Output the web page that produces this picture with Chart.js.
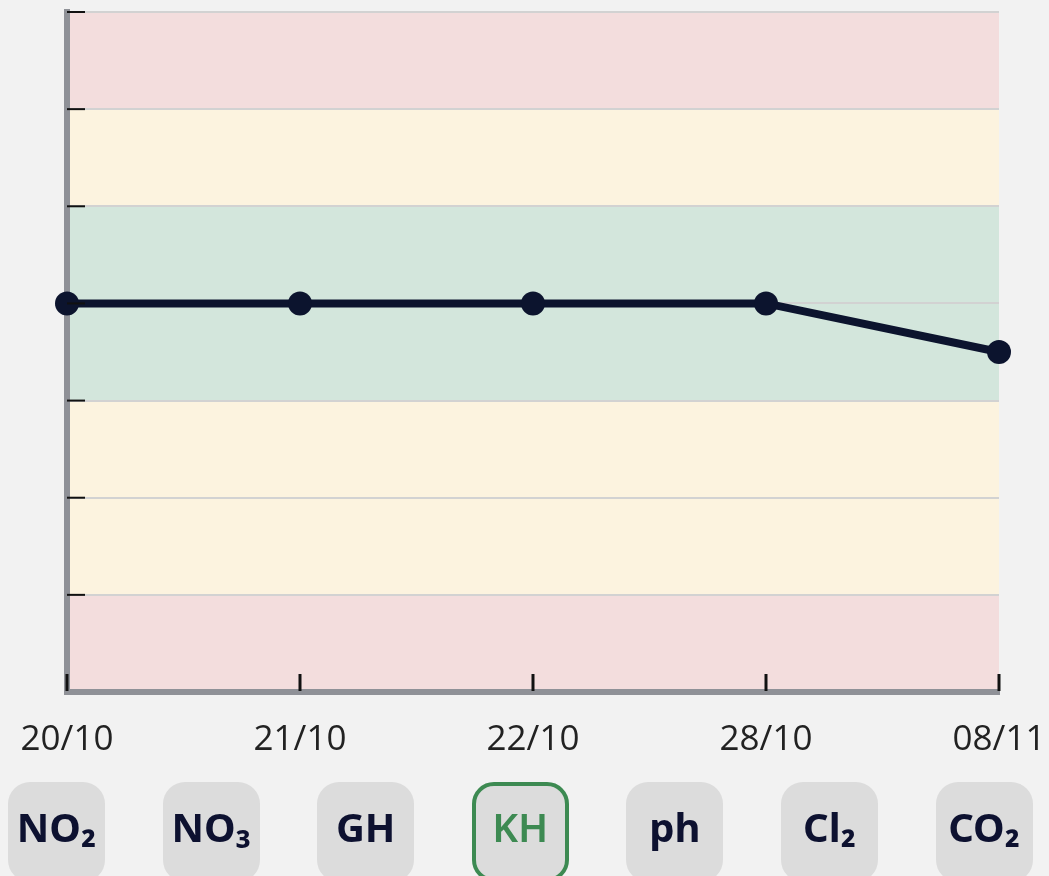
<!DOCTYPE html>
<html>
<head>
<meta charset="utf-8">
<script src="https://cdn.jsdelivr.net/npm/chart.js@4/dist/chart.umd.min.js"></script>
<style>
  html, body { margin: 0; padding: 0; }
  body { width: 1049px; height: 876px; overflow: hidden; background: #f2f2f2; position: relative; }
  #chartBox { position: absolute; top: 0; left: 0; width: 1049px; height: 798px; }
  #botones {
    position: absolute; top: 782px; left: 0; width: 1049px;
    display: flex; padding-left: 8px; gap: 57.6px; box-sizing: border-box;
  }
  .boton {
    width: 97px; height: 100px; box-sizing: border-box;
    background: #dcdcdc; border-radius: 22px;
    font-family: "Noto Sans", "Open Sans", sans-serif; font-weight: 700;
    font-size: 40px; line-height: 52px; color: #0d1130;
    text-align: center; padding-top: 19px;
  }
  .boton.activo { border: 4px solid #3d8a52; color: #3d8a52; padding-top: 15px; font-weight: 600; }
</style>
</head>
<body>
<div id="chartBox"><canvas id="grafico"></canvas></div>
<div id="botones"></div>

<script>
// Datos del gráfico
var fechas = ['20/10', '21/10', '22/10', '28/10', '08/11'];
var valoresKH = [4, 4, 4, 4, 3.5];

// Franjas de fondo (desde, hasta, color)
var franjasDesde = [0, 1, 3, 5, 6];
var franjasHasta = [1, 3, 5, 6, 7];
var franjasColor = ['#f3dddd', '#fcf3df', '#d3e6dc', '#fcf3df', '#f3dddd'];

var parametros = ['NO₂', 'NO₃', 'GH', 'KH', 'ph', 'Cl₂', 'CO₂'];
var seleccionado = 'KH';

// Botones de parámetros
var contenedor = document.getElementById('botones');
parametros.forEach(function(p) {
    var b = document.createElement('div');
    b.className = 'boton' + (p === seleccionado ? ' activo' : '');
    b.textContent = p;
    contenedor.appendChild(b);
});

// Plugin para pintar las franjas de colores
var franjasPlugin = {
    id: 'franjas',
    beforeDraw: function(chart) {
        var ctx = chart.ctx;
        var area = chart.chartArea;
        var y = chart.scales.y;
        ctx.save();
        for (var i = 0; i < franjasDesde.length; i++) {
            var top = y.getPixelForValue(franjasHasta[i]);
            var bottom = y.getPixelForValue(franjasDesde[i]);
            ctx.fillStyle = franjasColor[i];
            ctx.fillRect(area.left, top, area.right - area.left, bottom - top);
        }
        ctx.restore();
    }
};

// Plugin para las marcas negras hacia dentro
var marcasPlugin = {
    id: 'marcas',
    afterDraw: function(chart) {
        var ctx = chart.ctx;
        var x = chart.scales.x;
        var y = chart.scales.y;
        ctx.save();
        ctx.strokeStyle = '#111111';
        ctx.lineWidth = 2;
        y.ticks.forEach(function(t) {
            if (t.value === 0) return;
            var py = y.getPixelForValue(t.value);
            ctx.beginPath();
            ctx.moveTo(x.left, py);
            ctx.lineTo(x.left + 18, py);
            ctx.stroke();
        });
        ctx.lineWidth = 3;
        fechas.forEach(function(f, i) {
            var px = x.getPixelForValue(i);
            ctx.beginPath();
            ctx.moveTo(px, y.bottom - 18);
            ctx.lineTo(px, y.bottom - 1);
            ctx.stroke();
        });
        ctx.restore();
    }
};

var ctx = document.getElementById('grafico').getContext('2d');
window.graficoKH = new Chart(ctx, {
    type: 'line',
    data: {
        labels: fechas,
        datasets: [{
            label: 'KH',
            data: valoresKH,
            borderColor: '#0c142e',
            backgroundColor: '#0c142e',
            borderWidth: 8,
            pointRadius: 12,
            pointHoverRadius: 12,
            pointBackgroundColor: '#0c142e',
            pointBorderWidth: 0,
            tension: 0,
            clip: false
        }]
    },
    options: {
        responsive: true,
        maintainAspectRatio: false,
        animation: false,
        layout: {
            padding: { left: 67, right: 50, top: 10, bottom: 10 }
        },
        plugins: {
            legend: { display: false },
            tooltip: { enabled: false }
        },
        scales: {
            x: {
                offset: false,
                grid: { display: false, drawTicks: false },
                border: { display: true, color: '#8f9197', width: 6 },
                ticks: {
                    padding: 27,
                    color: '#222222',
                    maxRotation: 0,
                    autoSkip: false,
                    font: { family: '"Open Sans", sans-serif', size: 35 }
                },
                // las etiquetas pueden salirse del área, no reservar margen
                afterFit: function(scale) {
                    scale.paddingLeft = 0;
                    scale.paddingRight = 0;
                }
            },
            y: {
                min: 0,
                max: 7,
                grid: { color: '#d2d2d2', lineWidth: 2, drawTicks: false },
                border: { display: true, color: '#8f9197', width: 6 },
                ticks: { display: false, stepSize: 1 }
            }
        }
    },
    plugins: [franjasPlugin, marcasPlugin]
});
</script>
</body>
</html>
